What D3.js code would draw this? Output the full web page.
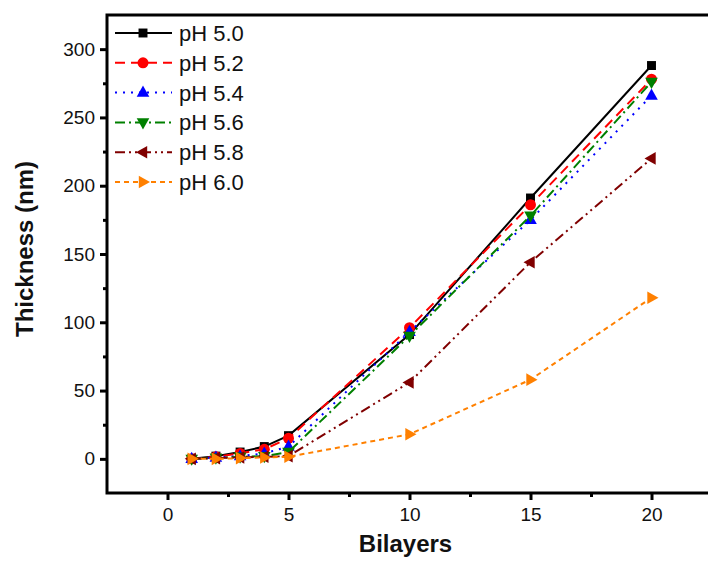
<!DOCTYPE html>
<html>
<head>
<meta charset="utf-8">
<script src="https://cdn.jsdelivr.net/npm/d3@7"></script>
<style>
body { margin: 0; background: #fff; }
svg text { font-family: "Liberation Sans", Arial, sans-serif; fill: #111; }
</style>
</head>
<body>
<div id="chart"></div>
<script>
var width = 708;
var height = 563;

var bilayers = [1, 2, 3, 4, 5, 10, 15, 20];
var seriesNames = ["pH 5.0", "pH 5.2", "pH 5.4", "pH 5.6", "pH 5.8", "pH 6.0"];
var ph50 = [0, 2, 5, 9, 17, 91, 191, 288];
var ph52 = [0, 1.5, 4, 7, 15, 96, 186, 278];
var ph54 = [0, 1, 2, 4, 9, 93, 175, 266];
var ph56 = [0, 0.8, 1.5, 2, 5, 90, 178, 276];
var ph58 = [0, 0.5, 1, 1.5, 2, 56, 144, 220];
var ph60 = [0, 0, 0.5, 1, 1.5, 18, 58, 118];
var xTicks = [0, 5, 10, 15, 20];
var yTicks = [0, 50, 100, 150, 200, 250, 300];

var colors = ["#000000", "#ff0000", "#0000ff", "#008000", "#800000", "#ff8000"];
var dashes = ["none", "10,6", "2,6", "10,4,2,4", "10,4,2,4,2,4", "5,4"];
var symbols = [d3.symbolSquare, d3.symbolCircle, "up", "down", "left", "right"];

var values = [ph50, ph52, ph54, ph56, ph58, ph60];

var x = d3.scaleLinear().domain([-2.5, 22.5]).range([107, 712]);
var y = d3.scaleLinear().domain([-25, 325]).range([493, 15]);

var svg = d3.select("#chart")
	.append("svg")
	.attr("width", width)
	.attr("height", height);

// triangle paths, pointing in a direction
function tri(dir, s) {
	var p;
	if (dir == "up") p = [[0, -s], [s * 0.9, s * 0.6], [-s * 0.9, s * 0.6]];
	if (dir == "down") p = [[0, s], [s * 0.9, -s * 0.6], [-s * 0.9, -s * 0.6]];
	if (dir == "left") p = [[-s, 0], [s * 0.6, s * 0.9], [s * 0.6, -s * 0.9]];
	if (dir == "right") p = [[s, 0], [-s * 0.6, s * 0.9], [-s * 0.6, -s * 0.9]];
	return "M" + p.join("L") + "Z";
}
function marker(i) {
	if (typeof symbols[i] == "string") return tri(symbols[i], 7);
	return d3.symbol().type(symbols[i]).size(i == 0 ? 80 : 95)();
}

var line = d3.line()
	.x(function(d) { return x(d[0]); })
	.y(function(d) { return y(d[1]); });

// series
values.forEach(function(vals, i) {
	var pts = bilayers.map(function(b, j) { return [b, vals[j]]; });
	var g = svg.append("g").attr("class", "series");
	g.append("path")
		.attr("d", line(pts))
		.attr("fill", "none")
		.attr("stroke", colors[i])
		.attr("stroke-width", 2)
		.attr("stroke-dasharray", dashes[i]);
	g.selectAll(".pt")
		.data(pts)
		.enter()
		.append("path")
		.attr("class", "pt")
		.attr("transform", function(d) { return "translate(" + x(d[0]) + "," + y(d[1]) + ")"; })
		.attr("d", marker(i))
		.attr("fill", colors[i]);
});

// axes
var xAxis = svg.append("g")
	.attr("transform", "translate(0," + y(-25) + ")")
	.call(d3.axisBottom(x).tickValues(xTicks).tickSize(7).tickPadding(8));
var xMinor = svg.append("g")
	.attr("transform", "translate(0," + y(-25) + ")")
	.call(d3.axisBottom(x).tickValues([2.5, 7.5, 12.5, 17.5]).tickSize(4).tickFormat(""));
var yAxis = svg.append("g")
	.attr("transform", "translate(" + x(-2.5) + ",0)")
	.call(d3.axisLeft(y).tickValues(yTicks).tickSize(7).tickPadding(5));
var yMinor = svg.append("g")
	.attr("transform", "translate(" + x(-2.5) + ",0)")
	.call(d3.axisLeft(y).tickValues([25, 75, 125, 175, 225, 275]).tickSize(4).tickFormat(""));

[xAxis, xMinor, yAxis, yMinor].forEach(function(a) {
	a.select(".domain").remove();
	a.selectAll("line").attr("stroke", "#000").attr("stroke-width", 3);
	a.selectAll("text").style("font-size", "19px").attr("fill", "#111");
});

// frame
svg.append("rect")
	.attr("x", x(-2.5))
	.attr("y", y(325))
	.attr("width", x(22.5) - x(-2.5))
	.attr("height", y(-25) - y(325))
	.attr("fill", "none")
	.attr("stroke", "#000")
	.attr("stroke-width", 3);

// axis titles
svg.append("text")
	.attr("x", (x(-2.5) + x(22.5)) / 2 - 4)
	.attr("y", 552)
	.attr("text-anchor", "middle")
	.style("font-size", "24px")
	.style("font-weight", "bold")
	.text("Bilayers");
svg.append("text")
	.attr("transform", "translate(33," + (y(150) - 5) + ") rotate(-90)")
	.attr("text-anchor", "middle")
	.style("font-size", "24px")
	.style("font-weight", "bold")
	.text("Thickness (nm)");

// legend
var legend = svg.selectAll(".legend")
	.data(seriesNames)
	.enter()
	.append("g")
	.attr("class", "legend")
	.attr("transform", function(d, i) { return "translate(115," + (33 + i * 29.8) + ")"; });
legend.append("line")
	.attr("x1", 0).attr("x2", 57)
	.attr("stroke", function(d, i) { return colors[i]; })
	.attr("stroke-width", 2)
	.attr("stroke-dasharray", function(d, i) { return dashes[i]; });
legend.append("path")
	.attr("transform", "translate(28,0)")
	.attr("d", function(d, i) { return marker(i); })
	.attr("fill", function(d, i) { return colors[i]; });
legend.append("text")
	.attr("x", 64)
	.attr("y", 8)
	.style("font-size", "22px")
	.text(function(d) { return d; });
</script>
</body>
</html>
